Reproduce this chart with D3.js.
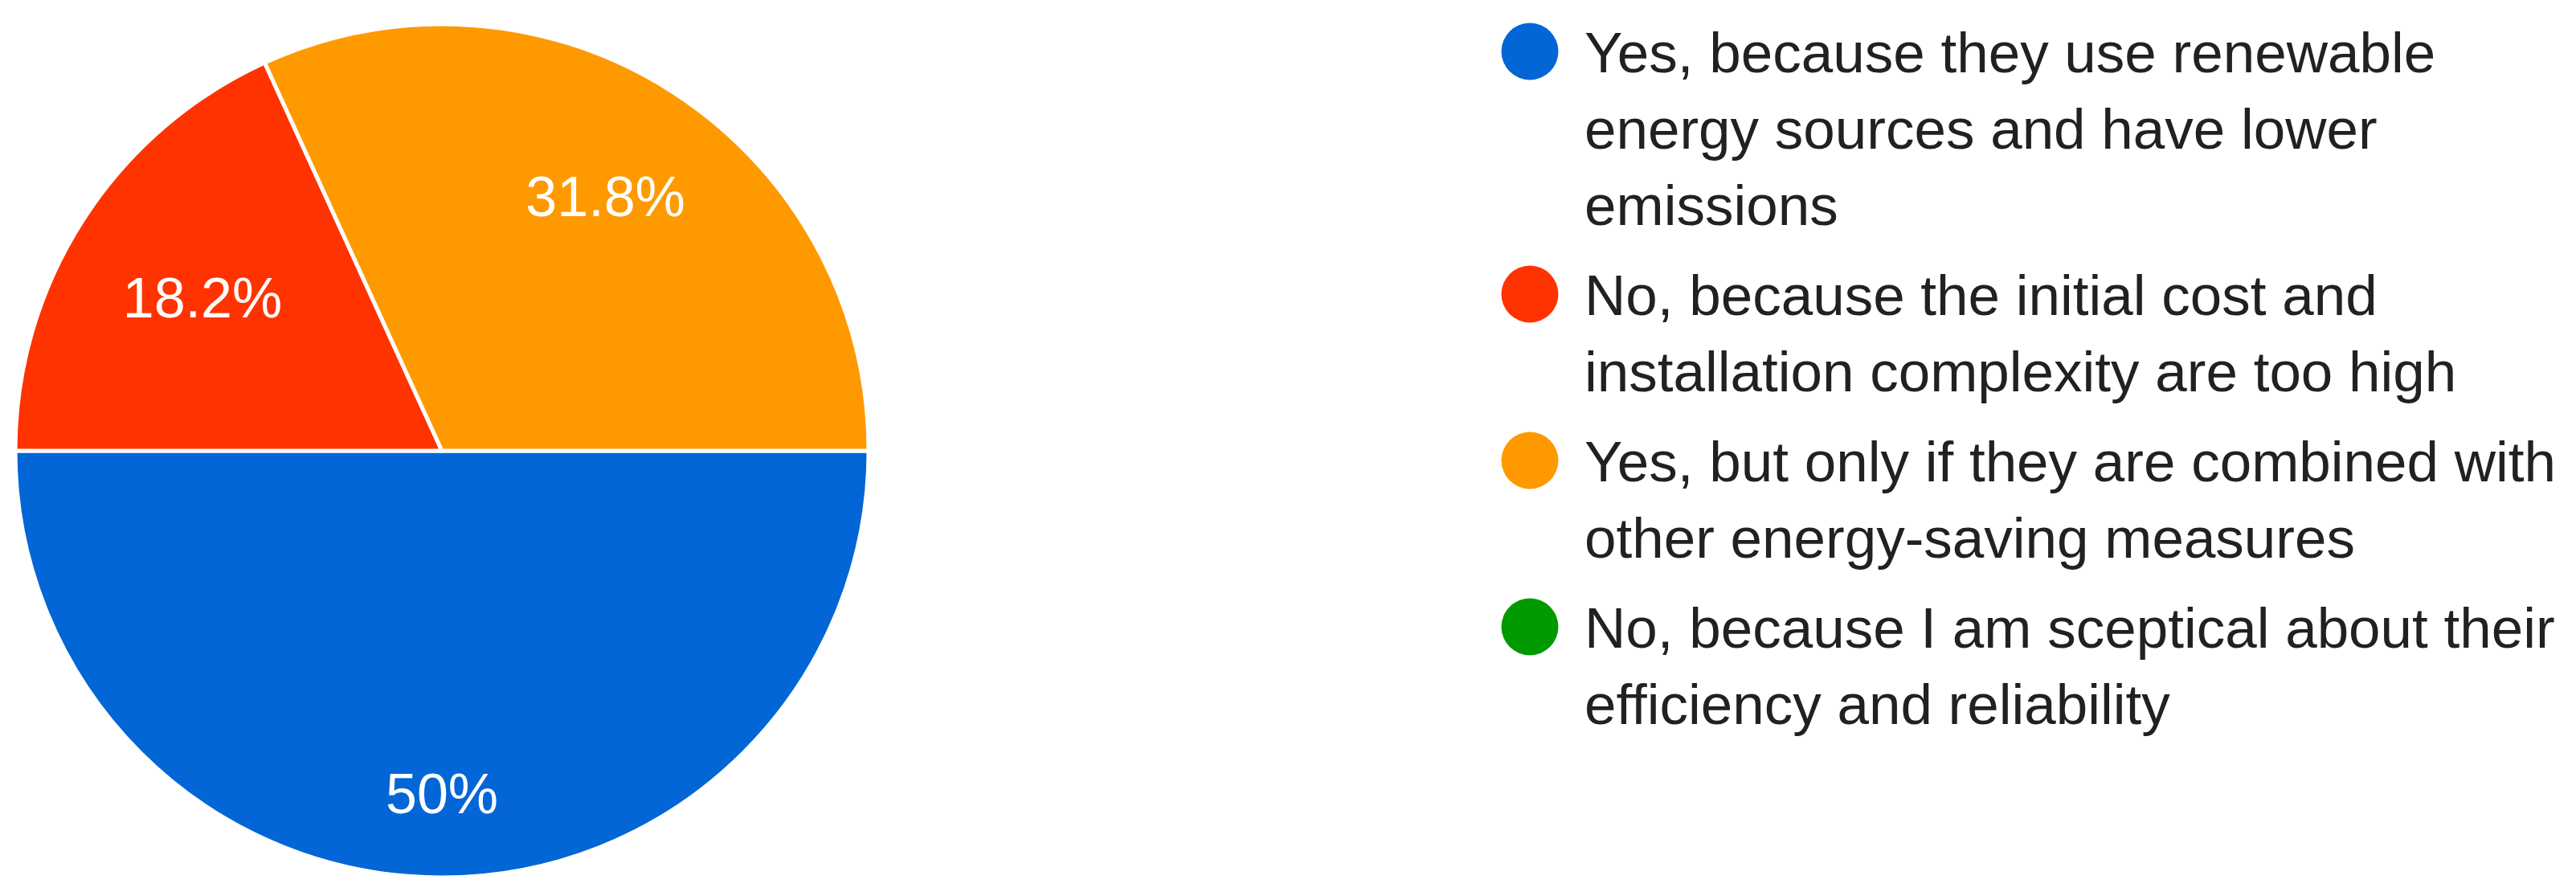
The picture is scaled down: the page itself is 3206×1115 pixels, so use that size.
<!DOCTYPE html>
<html>
<head>
<meta charset="utf-8">
<script src="https://cdn.jsdelivr.net/npm/d3@7"></script>
<style>
  html, body { margin: 0; padding: 0; background: #fff; }
  svg { display: block; }
</style>
</head>
<body>
<div id="chart"></div>
<script>
// answers and respondent counts (22 responses)
var categories = [
  "Yes, because they use renewable energy sources and have lower emissions",
  "No, because the initial cost and installation complexity are too high",
  "Yes, but only if they are combined with other energy-saving measures",
  "No, because I am sceptical about their efficiency and reliability"
];
var counts = [11, 4, 7, 0];
var colors = ["#0366d6", "#ff3300", "#ff9900", "#009a00"];
// legend text as it wraps in the picture
var legendLines = [
  ["Yes, because they use renewable", "energy sources and have lower", "emissions"],
  ["No, because the initial cost and", "installation complexity are too high"],
  ["Yes, but only if they are combined with", "other energy-saving measures"],
  ["No, because I am sceptical about their", "efficiency and reliability"]
];

var W = 3206, H = 1115;
var font = "Arial, 'Liberation Sans', sans-serif";

var svg = d3.select("#chart")
            .append("svg")
              .attr("width", W)
              .attr("height", H);

// pie
var cx = 550, cy = 561, radius = 531;
var data = categories.map(function(c, i) { return {name: c, value: counts[i], color: colors[i]}; });
var total = d3.sum(counts);

var pie = d3.pie()
            .sort(null)
            .value(function(d) { return d.value; })
            .startAngle(Math.PI / 2)
            .endAngle(Math.PI / 2 + 2 * Math.PI);
var arc = d3.arc().innerRadius(0).outerRadius(radius);

var g = svg.append("g")
           .attr("transform", "translate(" + cx + "," + cy + ")");

var arcs = pie(data).filter(function(d) { return d.data.value > 0; });

g.selectAll("path.slice")
  .data(arcs)
  .enter()
  .append("path")
    .attr("class", "slice")
    .attr("d", arc)
    .style("fill", function(d) { return d.data.color; })
    .style("stroke", "#fff")
    .style("stroke-width", 5)
    .style("stroke-linejoin", "round");

function pct(v) {
  var p = Math.round(v / total * 1000) / 10;
  return (p % 1 === 0 ? p.toFixed(0) : p.toFixed(1)) + "%";
}

// labels: push the text box so its far corner sits at 0.85 of the radius
var labelFont = 70, capH = labelFont * 0.716;
g.selectAll("text.pct")
  .data(arcs)
  .enter()
  .append("text")
    .attr("class", "pct")
    .attr("text-anchor", "middle")
    .attr("font-family", font)
    .attr("font-size", labelFont + "px")
    .style("fill", "#fff")
    .text(function(d) { return pct(d.data.value); })
    .each(function(d) {
      var w = this.getComputedTextLength();
      var a = (d.startAngle + d.endAngle) / 2;
      var s = Math.sin(a), c = -Math.cos(a);
      var dist = radius * 0.85 - (Math.abs(s) * w / 2 + Math.abs(c) * capH / 2);
      d3.select(this)
        .attr("x", s * dist)
        .attr("y", c * dist + capH / 2);
    });

// legend
var legX = 1904, textX = 1972, dotR = 35.5;
var lineH = 95, itemGap = 17, y = 90;
var legend = svg.append("g");

legendLines.forEach(function(lines, i) {
  legend.append("circle")
      .attr("cx", legX)
      .attr("cy", y - 26)
      .attr("r", dotR)
      .style("fill", colors[i]);
  lines.forEach(function(line, j) {
    legend.append("text")
        .attr("x", textX)
        .attr("y", y + j * lineH)
        .attr("font-family", font)
        .attr("font-size", "71px")
        .style("fill", "#212121")
        .text(line);
  });
  y += lines.length * lineH + itemGap;
});
</script>
</body>
</html>
